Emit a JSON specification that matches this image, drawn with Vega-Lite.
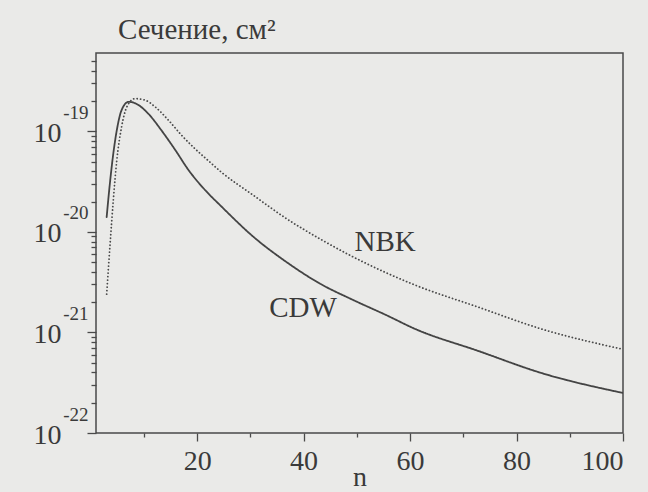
{
  "$schema": "https://vega.github.io/schema/vega-lite/v6.json",
  "width": 527,
  "height": 380,
  "autosize": "none",
  "padding": {"left": 96, "top": 53, "right": 25, "bottom": 59},
  "background": "#eaeae8",
  "title": {
    "text": "Сечение, см²",
    "anchor": "start",
    "frame": "group",
    "dx": 22,
    "dy": 28,
    "offset": 13,
    "baseline": "alphabetic",
    "font": "Liberation Serif",
    "fontSize": 29,
    "fontWeight": "normal",
    "color": "#3a3a3a"
  },
  "config": {
    "view": {"stroke": "#4a4a4a", "strokeWidth": 1.5},
    "axis": {
      "domain": false,
      "grid": false,
      "labelFont": "Liberation Serif",
      "labelFontSize": 28,
      "labelColor": "#3a3a3a",
      "tickColor": "#4a4a4a",
      "tickWidth": 1.3,
      "titleFont": "Liberation Serif",
      "titleFontWeight": "normal",
      "titleColor": "#3a3a3a"
    }
  },
  "datasets": {
    "curves": [
      {"series": "CDW", "n": 3.0, "v": 1.4e-20},
      {"series": "CDW", "n": 3.6, "v": 3.0e-20},
      {"series": "CDW", "n": 4.25, "v": 6.0e-20},
      {"series": "CDW", "n": 4.9, "v": 1.02e-19},
      {"series": "CDW", "n": 5.8, "v": 1.62e-19},
      {"series": "CDW", "n": 7.1, "v": 1.96e-19},
      {"series": "CDW", "n": 8.0, "v": 1.93e-19},
      {"series": "CDW", "n": 9.0, "v": 1.82e-19},
      {"series": "CDW", "n": 10.8, "v": 1.5e-19},
      {"series": "CDW", "n": 13.3, "v": 1.02e-19},
      {"series": "CDW", "n": 15.9, "v": 6.5e-20},
      {"series": "CDW", "n": 18.4, "v": 4.1e-20},
      {"series": "CDW", "n": 21.5, "v": 2.6e-20},
      {"series": "CDW", "n": 24.5, "v": 1.8e-20},
      {"series": "CDW", "n": 30.6, "v": 8.9e-21},
      {"series": "CDW", "n": 36.8, "v": 5.0e-21},
      {"series": "CDW", "n": 43.1, "v": 3.05e-21},
      {"series": "CDW", "n": 49.4, "v": 2.09e-21},
      {"series": "CDW", "n": 55.6, "v": 1.48e-21},
      {"series": "CDW", "n": 61.0, "v": 1.08e-21},
      {"series": "CDW", "n": 72.6, "v": 6.6e-22},
      {"series": "CDW", "n": 85.0, "v": 3.9e-22},
      {"series": "CDW", "n": 100.0, "v": 2.5e-22},
      {"series": "NBK", "n": 3.0, "v": 2.4e-21},
      {"series": "NBK", "n": 3.6, "v": 7.0e-21},
      {"series": "NBK", "n": 4.25, "v": 2.06e-20},
      {"series": "NBK", "n": 4.9, "v": 5.1e-20},
      {"series": "NBK", "n": 5.8, "v": 1.1e-19},
      {"series": "NBK", "n": 6.8, "v": 1.75e-19},
      {"series": "NBK", "n": 8.3, "v": 2.11e-19},
      {"series": "NBK", "n": 10.2, "v": 2.04e-19},
      {"series": "NBK", "n": 12.1, "v": 1.75e-19},
      {"series": "NBK", "n": 14.6, "v": 1.29e-19},
      {"series": "NBK", "n": 17.1, "v": 9.1e-20},
      {"series": "NBK", "n": 19.6, "v": 6.7e-20},
      {"series": "NBK", "n": 22.1, "v": 5.1e-20},
      {"series": "NBK", "n": 24.6, "v": 3.9e-20},
      {"series": "NBK", "n": 30.6, "v": 2.3e-20},
      {"series": "NBK", "n": 36.8, "v": 1.35e-20},
      {"series": "NBK", "n": 43.1, "v": 8.5e-21},
      {"series": "NBK", "n": 49.4, "v": 5.6e-21},
      {"series": "NBK", "n": 55.6, "v": 3.9e-21},
      {"series": "NBK", "n": 61.0, "v": 2.95e-21},
      {"series": "NBK", "n": 72.6, "v": 1.8e-21},
      {"series": "NBK", "n": 85.0, "v": 1.07e-21},
      {"series": "NBK", "n": 100.0, "v": 6.8e-22}
    ],
    "labels": [
      {"label": "NBK", "n": 55.3, "v": 8.0e-21},
      {"label": "CDW", "n": 39.9, "v": 1.73e-21}
    ]
  },
  "resolve": {"axis": {"y": "independent"}},
  "layer": [
    {
      "data": {"name": "curves"},
      "mark": {"type": "line", "interpolate": "monotone", "strokeWidth": 1.8, "strokeCap": "round", "clip": true},
      "encoding": {
        "x": {
          "field": "n",
          "type": "quantitative",
          "scale": {"domain": [1, 100], "nice": false, "zero": false},
          "axis": {
            "title": "n",
            "titleFontSize": 28,
            "titleBaseline": "alphabetic",
            "titleY": 52,
            "values": [10, 20, 30, 40, 50, 60, 70, 80, 90, 100],
            "labelExpr": "datum.value % 20 == 0 ? datum.label : ''",
            "labelPadding": 6,
            "tickSize": {"condition": {"test": "datum.value % 20 == 0", "value": 8}, "value": 4}
          }
        },
        "y": {
          "field": "v",
          "type": "quantitative",
          "scale": {"type": "log", "domain": [1e-22, 6e-19], "nice": false},
          "axis": {
            "orient": "left",
            "title": null,
            "values": [1e-22, 2e-22, 3e-22, 4e-22, 5e-22, 6e-22, 7e-22, 8e-22, 9e-22, 1e-21, 2e-21, 3e-21, 4e-21, 5e-21, 6e-21, 7e-21, 8e-21, 9e-21, 1e-20, 2e-20, 3e-20, 4e-20, 5e-20, 6e-20, 7e-20, 8e-20, 9e-20, 1e-19, 2e-19, 3e-19, 4e-19, 5e-19],
            "labelExpr": "datum.value == 1e-19 || datum.value == 1e-20 || datum.value == 1e-21 || datum.value == 1e-22 ? '10' : ''",
            "labelPadding": 26,
            "labelOffset": 2,
            "tickSize": {"condition": {"test": "datum.value == 1e-19 || datum.value == 1e-20 || datum.value == 1e-21 || datum.value == 1e-22", "value": 9}, "value": 5}
          }
        },
        "color": {"field": "series", "type": "nominal", "scale": {"domain": ["CDW", "NBK"], "range": ["#444444", "#4a4a4a"]}, "legend": null},
        "strokeDash": {"field": "series", "type": "nominal", "scale": {"domain": ["CDW", "NBK"], "range": [[1, 0], [0.1, 3.4]]}, "legend": null}
      }
    },
    {
      "data": {"name": "labels"},
      "mark": {"type": "text", "font": "Liberation Serif", "fontSize": 29, "color": "#3a3a3a", "align": "center", "baseline": "middle"},
      "encoding": {
        "x": {"field": "n", "type": "quantitative"},
        "y": {
          "field": "v",
          "type": "quantitative",
          "axis": {
            "orient": "left",
            "title": null,
            "ticks": false,
            "values": [1e-22, 1e-21, 1e-20, 1e-19],
            "labelExpr": "datum.value == 1e-19 ? '-19' : datum.value == 1e-20 ? '-20' : datum.value == 1e-21 ? '-21' : '-22'",
            "labelFontSize": 19,
            "labelPadding": 8,
            "labelOffset": -19
          }
        },
        "text": {"field": "label"}
      }
    }
  ]
}
